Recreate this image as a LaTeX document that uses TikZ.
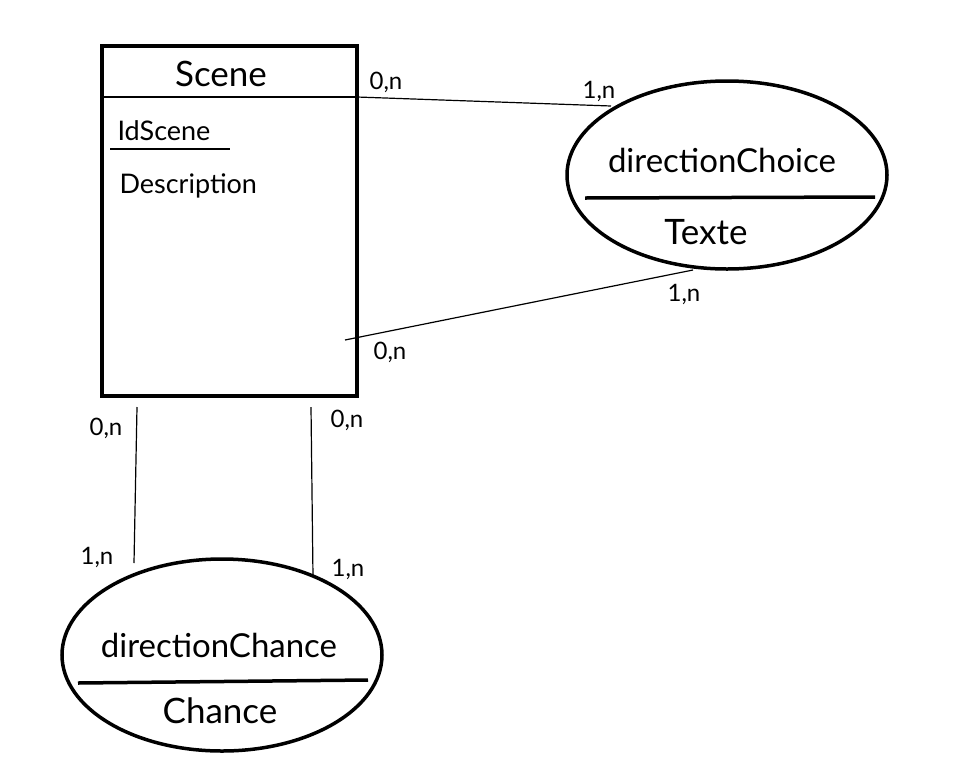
\documentclass[tikz,border=0pt]{standalone}
\usepackage{fontspec}
\setmainfont{Lato}
\usetikzlibrary{shapes.geometric}
\begin{document}
\begin{tikzpicture}[x=1pt,y=-1pt,
  entity/.style={draw,line width=4.5pt,minimum width=255pt,minimum height=350pt,inner sep=0pt},
  assoc/.style={draw,ellipse,line width=3.5pt,minimum width=320pt,minimum height=188pt,inner sep=0pt},
  link/.style={line width=1.2pt},
  title/.style={font=\fontsize{35}{38}\selectfont},
  big/.style={font=\fontsize{33}{36}\selectfont},
  attr/.style={font=\fontsize{35}{38}\selectfont},
  mid/.style={font=\fontsize{27}{30}\selectfont},
  card/.style={font=\fontsize{24}{26}\selectfont}]
\useasboundingbox (0,0) rectangle (964,769);
% entity Scene
\node[entity] (scene) at (229.5,221) {};
\node[title] (scenet) at (221,74) {Scene};
\coordinate (hdL) at (102,97);
\coordinate (hdR) at (357,97);
\draw[link] (hdL) -- (hdR);
\node[mid,anchor=west] (ids) at (114,131) {IdScene};
\coordinate (ulL) at (110,149);
\coordinate (ulR) at (230,149);
\draw[link] (ulL) -- (ulR);
\node[mid,anchor=west] (desc) at (116,186) {Description};
% association directionChoice
\node[assoc] (dc) at (727,175) {};
\node[big] (dct) at (722,160) {directionChoice};
\node[attr] (dcx) at (706,232) {Texte};
\coordinate (dcL) at (585,198);
\coordinate (dcR) at (875,197);
\draw[line width=3.5pt] (dcL) -- (dcR);
% association directionChance
\node[assoc,minimum height=192pt] (dh) at (222,655) {};
\node[big] (dht) at (219,645) {directionChance};
\node[attr] (dhx) at (220,711) {Chance};
\coordinate (dhL) at (78,683);
\coordinate (dhR) at (368,680);
\draw[line width=3.5pt] (dhL) -- (dhR);
% connectors
\coordinate (c1a) at (357,97);
\coordinate (c1b) at (611,106);
\draw[link] (c1a) -- (c1b);
\coordinate (c2a) at (345,340);
\coordinate (c2b) at (693,270);
\draw[link] (c2a) -- (c2b);
\coordinate (c3a) at (137,407);
\coordinate (c3b) at (134,563);
\draw[link] (c3a) -- (c3b);
\coordinate (c4a) at (311,407);
\coordinate (c4b) at (313,577);
\draw[link] (c4a) -- (c4b);
% cardinalities
\node[card] (k1) at (386,82) {0,n};
\node[card] (k2) at (599,92) {1,n};
\node[card] (k3) at (684,295) {1,n};
\node[card] (k4) at (390,352) {0,n};
\node[card] (k5) at (106,428) {0,n};
\node[card] (k6) at (347,420) {0,n};
\node[card] (k7) at (97,558) {1,n};
\node[card] (k8) at (348,570) {1,n};
\end{tikzpicture}
\end{document}
